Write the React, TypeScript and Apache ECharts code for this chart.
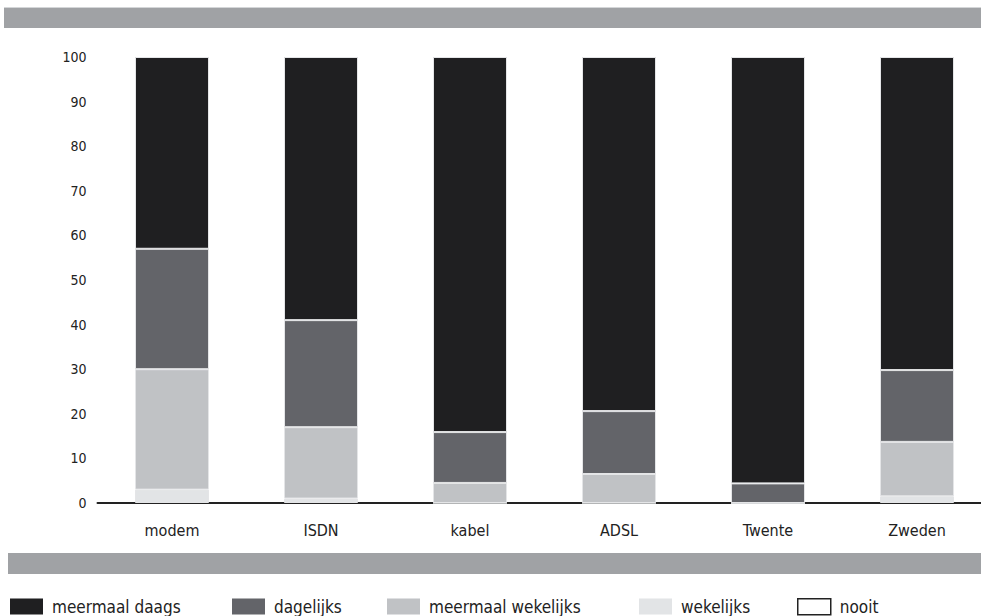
import React, { useEffect, useRef } from "react";
import * as echarts from "echarts";

const categories = ["modem", "ISDN", "kabel", "ADSL", "Twente", "Zweden"];
const seriesNames = ["meermaal daags", "dagelijks", "meermaal wekelijks", "wekelijks", "nooit"];
const wekelijks = [3, 1, 0, 0, 0, 1.5];
const meermaalWekelijks = [27, 16, 4.5, 6.5, 0, 12.2];
const dagelijks = [27, 24, 11.4, 14.1, 4.4, 16.1];
const meermaalDaags = [43, 59, 84.1, 79.4, 95.6, 70.2];
const nooit = [0, 0, 0, 0, 0, 0];
const yTicks = [0, 10, 20, 30, 40, 50, 60, 70, 80, 90, 100];

const colors = {
  "meermaal daags": "#1f1f21",
  dagelijks: "#636469",
  "meermaal wekelijks": "#c0c2c5",
  wekelijks: "#e2e4e6",
  nooit: "#ffffff",
};

const FONT = "'DejaVu Sans Condensed', 'Liberation Sans Narrow', 'Open Sans', sans-serif";

export default function App() {
  const ref = useRef<HTMLDivElement>(null);
  useEffect(() => {
    if (!ref.current) return;
    const chart = echarts.init(ref.current, null, { renderer: "svg" });
    const mk = (name: string, data: number[]) => ({
      name,
      type: "bar",
      stack: "total",
      data,
      barWidth: 74,
      itemStyle: {
        color: (colors as any)[name],
        borderColor: name === "nooit" ? "transparent" : "#e4e5e7",
        borderWidth: name === "nooit" ? 0 : 1,
      },
    });
    const legendLefts = [10, 232, 387, 639, 797];
    const legends = seriesNames.map((n, i) => ({
      left: legendLefts[i],
      top: 598,
      padding: 0,
      itemWidth: 33,
      itemHeight: 16,
      itemGap: 0,
      icon: "rect",
      textStyle: { fontFamily: FONT, fontSize: 17, lineHeight: 16, color: "#222", padding: [0, 0, 0, 4] },
      data: [
        n === "nooit"
          ? { name: n, itemStyle: { color: "#fff", borderColor: "#222", borderWidth: 1.5 } }
          : { name: n, itemStyle: { color: (colors as any)[n], borderWidth: 0 } },
      ],
      selectedMode: false,
    }));
    chart.setOption({
      animation: false,
      backgroundColor: "#ffffff",
      grid: { left: 97.5, right: 8.5, top: 57, bottom: 113, containLabel: false },
      legend: legends,
      graphic: [
        { type: "rect", shape: { x: 4, y: 7, width: 977, height: 1 }, style: { fill: "#d4d6d8" } },
        { type: "rect", shape: { x: 4, y: 8, width: 977, height: 20 }, style: { fill: "#a0a2a5" } },
        { type: "rect", shape: { x: 8, y: 553, width: 973, height: 21 }, style: { fill: "#a0a2a5" } },
      ],
      xAxis: {
        type: "category",
        data: categories,
        axisLine: { lineStyle: { color: "#222", width: 2 } },
        axisTick: { show: false },
        axisLabel: { fontFamily: FONT, fontSize: 16, color: "#222", margin: 19 },
      },
      yAxis: {
        type: "value",
        min: 0,
        max: 100,
        interval: 10,
        axisLine: { show: false },
        axisTick: { show: false },
        splitLine: { show: false },
        axisLabel: {
          fontFamily: FONT,
          fontSize: 14,
          color: "#222",
          margin: 11,
          formatter: (v: number) => (yTicks.includes(v) ? String(v) : ""),
        },
      },
      series: [
        mk("wekelijks", wekelijks),
        mk("meermaal wekelijks", meermaalWekelijks),
        mk("dagelijks", dagelijks),
        mk("meermaal daags", meermaalDaags),
        mk("nooit", nooit),
      ],
    });
    return () => chart.dispose();
  }, []);
  return (
    <div style={{ position: "fixed", left: 0, top: 0, width: 981, height: 616, overflow: "hidden", background: "#fff" }}>
      <div ref={ref} style={{ width: 1000, height: 616 }} />
    </div>
  );
}
